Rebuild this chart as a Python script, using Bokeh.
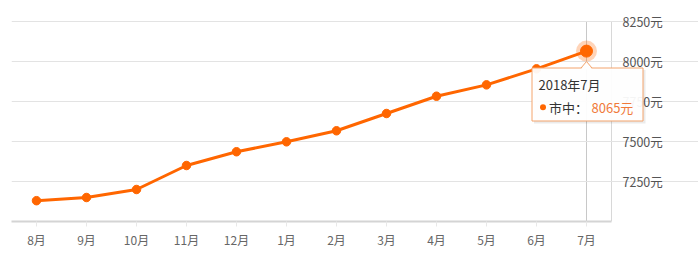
from bokeh.plotting import figure
from bokeh.models import (Range1d, FixedTicker, BoxAnnotation, Label, ColumnDataSource)
from bokeh.core.properties import value
from bokeh.embed import file_html
from bokeh.resources import INLINE

months = ["8月", "9月", "10月", "11月", "12月", "1月", "2月", "3月", "4月", "5月", "6月", "7月"]
prices = [7130, 7150, 7200, 7350, 7436, 7498, 7567, 7675, 7783, 7854, 7954, 8065]
y_ticks = [7250, 7500, 7750, 8000, 8250]
series_name = "市中"
hover_title = "2018年7月"
unit = "元"

FONT = "Noto Sans CJK SC"
ORANGE = "#ff6600"
Y0, Y1 = 7000, 8250

n = len(months)
xs = list(range(n))
src = ColumnDataSource(dict(x=xs, y=prices))

# pixel helpers (frame starts at x=11, y=0; 50 px per category, 6.25 units per px)
def px_x(px):
    return (px - 11) / 50.0 - 0.5

def px_y(py):
    return Y1 - (py - 21) * 6.25

p = figure(width=698, height=265, output_backend="svg", toolbar_location=None,
           x_range=Range1d(-0.5, px_x(698)), y_range=Range1d(Y0, px_y(0)),
           min_border_left=11, min_border_right=0, min_border_top=0, min_border_bottom=44)
p.yaxis.visible = False
p.outline_line_color = None
p.background_fill_color = "white"
p.border_fill_color = "white"

# grid
p.xgrid.grid_line_color = None
p.ygrid.ticker = FixedTicker(ticks=y_ticks)
p.ygrid.bounds = (-0.5, n - 0.5)
p.ygrid.grid_line_color = "#e3e3e3"
p.ygrid.grid_line_width = 1

# x axis
xa = p.xaxis[0]
xa.ticker = FixedTicker(ticks=xs)
xa.bounds = (-0.5, n - 0.5)
xa.major_label_overrides = {i: m for i, m in enumerate(months)}
xa.axis_line_color = "#d4d4d4"
xa.axis_line_width = 2
xa.major_tick_line_color = "#e8e8e8"
xa.major_tick_out = 5
xa.major_tick_in = 0
xa.minor_tick_line_color = None
xa.major_label_standoff = 4
xa.major_label_text_font = FONT
xa.major_label_text_font_size = "12px"
xa.major_label_text_color = "#666666"

# right-hand value scale line and labels
rl = p.segment([n - 0.5], [Y0], [n - 0.5], [Y1], line_color="#d8d8d8", line_width=1)
rl.level = "underlay"
p.text(x=[px_x(622)] * len(y_ticks), y=y_ticks, text=[f"{v}{unit}" for v in y_ticks],
       text_font=value(FONT), text_font_size="12.5px", text_color="#555555",
       text_baseline="middle", text_align="left")

# crosshair at last point
last = n - 1
ch = p.segment([last], [Y0], [last], [Y1], line_color="#c8c8c8", line_width=1)
ch.level = "underlay"

# series
p.line("x", "y", source=src, line_color=ORANGE, line_width=3)
p.scatter("x", "y", source=src, size=8.5, fill_color=ORANGE, line_color=ORANGE)

# highlighted last point
p.scatter([last], [prices[-1]], size=21, fill_color=ORANGE, fill_alpha=0.28, line_color=None)
p.scatter([last], [prices[-1]], size=12, fill_color=ORANGE, line_color=ORANGE)

# tooltip box
bl, br, bt, bb = px_x(531.5), px_x(642.5), px_y(67.5), px_y(120.5)
p.add_layout(BoxAnnotation(left=px_x(533.5), right=px_x(645), top=px_y(69.5), bottom=px_y(123),
                           fill_color="#000000", fill_alpha=0.08, line_color=None))
p.add_layout(BoxAnnotation(left=bl, right=br, top=bt, bottom=bb,
                           fill_color="white", fill_alpha=0.94,
                           line_color="#f4a46c", line_width=1, line_alpha=1))

# pointer notch
hw = 0.11
tri = p.patch([last - hw, last, last + hw], [bt - 8, px_y(61), bt - 8],
              fill_color="white", line_color=None)
tri.level = "overlay"
r1 = p.line([last - hw, last, last + hw], [bt, px_y(61), bt], line_color="#f4a46c", line_width=1)
r1.level = "overlay"

p.add_layout(Label(x=px_x(538), y=px_y(83.5), text=hover_title, text_font=FONT,
                   text_font_size="13px", text_color="#333333", text_baseline="middle"))
dot = p.scatter([px_x(542.5)], [px_y(106.7)], size=6, fill_color=ORANGE, line_color=None)
dot.level = "overlay"
p.add_layout(Label(x=px_x(548.5), y=px_y(106.7), text=series_name + "：", text_font=FONT,
                   text_font_size="13px", text_color="#333333", text_baseline="middle"))
p.add_layout(Label(x=px_x(591), y=px_y(106.7), text=f"{prices[-1]}{unit}", text_font=FONT,
                   text_font_size="13px", text_color="#f07a3a", text_baseline="middle"))

open("out.html", "w").write(file_html(p, INLINE))
